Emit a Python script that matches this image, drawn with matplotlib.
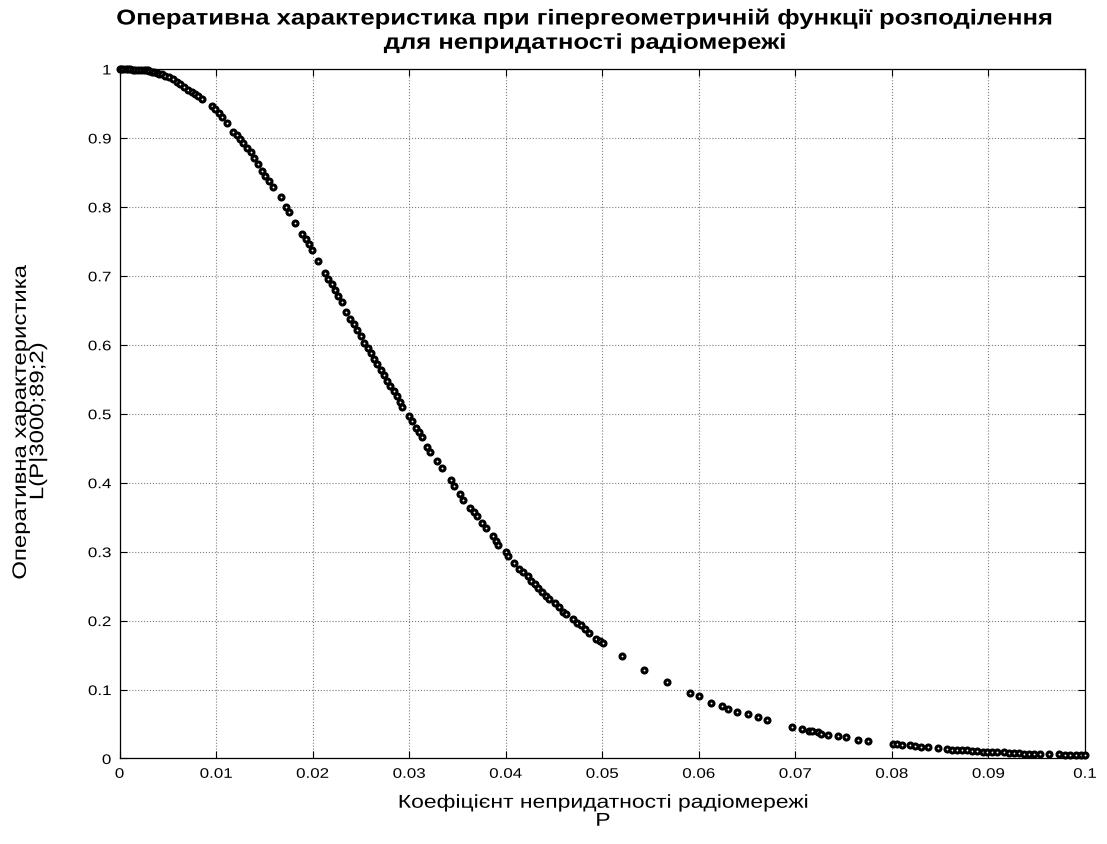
import matplotlib
matplotlib.use("Agg")
import matplotlib.pyplot as plt
from matplotlib import patheffects
from matplotlib.transforms import Affine2D
import numpy as np

plt.rcParams["font.family"] = ["Liberation Sans", "DejaVu Sans"]

# коефіцієнт непридатності P та оперативна характеристика L(P|3000;89;2)
p_vals = [
    0.0000, 0.0002, 0.0004, 0.0007, 0.0009, 0.0011, 0.0014, 0.0016, 0.0019, 0.0022,
    0.0025, 0.0027, 0.0029, 0.0031, 0.0034, 0.0036, 0.0039, 0.0041, 0.0044, 0.0047,
    0.0051, 0.0055, 0.0059, 0.0063, 0.0067, 0.0071, 0.0075, 0.0078, 0.0081, 0.0085,
    0.0096, 0.0099, 0.0103, 0.0106, 0.0111, 0.0118, 0.0122, 0.0125, 0.0128, 0.0132,
    0.0136, 0.0139, 0.0143, 0.0148, 0.0151, 0.0155, 0.0159, 0.0167, 0.0172, 0.0176,
    0.0182, 0.0189, 0.0193, 0.0196, 0.0199, 0.0206, 0.0213, 0.0216, 0.0220, 0.0223,
    0.0226, 0.0230, 0.0235, 0.0239, 0.0243, 0.0246, 0.0250, 0.0253, 0.0257, 0.0260,
    0.0264, 0.0267, 0.0271, 0.0274, 0.0277, 0.0280, 0.0284, 0.0287, 0.0291, 0.0293,
    0.0300, 0.0303, 0.0307, 0.0310, 0.0313, 0.0319, 0.0322, 0.0329, 0.0334, 0.0343,
    0.0346, 0.0353, 0.0356, 0.0363, 0.0367, 0.0370, 0.0375, 0.0380, 0.0387, 0.0390,
    0.0392, 0.0400, 0.0402, 0.0409, 0.0414, 0.0418, 0.0423, 0.0426, 0.0430, 0.0433,
    0.0438, 0.0442, 0.0445, 0.0451, 0.0455, 0.0459, 0.0463, 0.0470, 0.0474, 0.0478,
    0.0482, 0.0486, 0.0494, 0.0498, 0.0501, 0.0520, 0.0543, 0.0567, 0.0591, 0.0600,
    0.0613, 0.0624, 0.0630, 0.0640, 0.0651, 0.0661, 0.0671, 0.0697, 0.0707, 0.0714,
    0.0717, 0.0724, 0.0727, 0.0734, 0.0744, 0.0753, 0.0765, 0.0775, 0.0801, 0.0805,
    0.0811, 0.0819, 0.0824, 0.0830, 0.0838, 0.0848, 0.0857, 0.0862, 0.0868, 0.0873,
    0.0878, 0.0883, 0.0888, 0.0894, 0.0899, 0.0904, 0.0909, 0.0916, 0.0921, 0.0927,
    0.0932, 0.0937, 0.0942, 0.0947, 0.0954, 0.0963, 0.0973, 0.0979, 0.0985, 0.0991,
    0.0996, 0.1000,
]
l_vals = [
    1.000, 1.000, 1.000, 1.000, 1.000, 1.000, 0.999, 0.999, 0.999, 0.999,
    0.998, 0.998, 0.998, 0.997, 0.996, 0.995, 0.994, 0.993, 0.992, 0.990,
    0.988, 0.985, 0.981, 0.978, 0.974, 0.970, 0.967, 0.964, 0.961, 0.957,
    0.947, 0.942, 0.936, 0.931, 0.921, 0.909, 0.904, 0.898, 0.893, 0.886,
    0.879, 0.871, 0.862, 0.852, 0.845, 0.837, 0.829, 0.814, 0.800, 0.792,
    0.776, 0.760, 0.753, 0.746, 0.737, 0.721, 0.704, 0.695, 0.688, 0.679,
    0.671, 0.662, 0.647, 0.638, 0.630, 0.621, 0.612, 0.603, 0.595, 0.588,
    0.580, 0.572, 0.564, 0.556, 0.548, 0.540, 0.533, 0.526, 0.517, 0.510,
    0.496, 0.490, 0.480, 0.474, 0.466, 0.452, 0.444, 0.432, 0.422, 0.404,
    0.395, 0.383, 0.375, 0.364, 0.357, 0.352, 0.341, 0.334, 0.323, 0.316,
    0.310, 0.300, 0.293, 0.284, 0.275, 0.270, 0.265, 0.258, 0.253, 0.247,
    0.242, 0.236, 0.231, 0.225, 0.219, 0.213, 0.209, 0.202, 0.197, 0.193,
    0.188, 0.182, 0.174, 0.171, 0.167, 0.148, 0.129, 0.111, 0.095, 0.090,
    0.081, 0.076, 0.072, 0.068, 0.064, 0.060, 0.056, 0.046, 0.043, 0.040,
    0.040, 0.038, 0.036, 0.034, 0.032, 0.031, 0.027, 0.026, 0.021, 0.021,
    0.020, 0.019, 0.018, 0.017, 0.016, 0.015, 0.014, 0.013, 0.013, 0.012,
    0.012, 0.011, 0.011, 0.010, 0.010, 0.010, 0.009, 0.009, 0.008, 0.008,
    0.008, 0.007, 0.007, 0.007, 0.006, 0.006, 0.006, 0.005, 0.005, 0.005,
    0.005, 0.005,
]

x_ticks = np.arange(0, 0.1001, 0.01)
y_ticks = np.arange(0, 1.001, 0.1)
x_labels = ["0", "0.01", "0.02", "0.03", "0.04", "0.05", "0.06", "0.07", "0.08", "0.09", "0.1"]
y_labels = ["0", "0.1", "0.2", "0.3", "0.4", "0.5", "0.6", "0.7", "0.8", "0.9", "1"]


class Widen(patheffects.AbstractPathEffect):
    """Розтягує гліфи вздовж рядка (ширший шрифт, як у MATLAB-експорті)."""

    def __init__(self, sx, anchor=0.5):
        super().__init__()
        self.sx = sx
        self.anchor = anchor

    def draw_path(self, renderer, gc, tpath, affine, rgbFace=None):
        ext = tpath.get_extents()
        x0 = ext.x0 + self.anchor * ext.width
        pre = Affine2D().translate(-x0, 0).scale(self.sx, 1).translate(x0, 0)
        renderer.draw_path(gc, tpath, pre + affine, rgbFace)


fig = plt.figure(figsize=(11.07, 8.45), dpi=100)
fig.patch.set_facecolor("white")
ax = fig.add_axes([0.108, 0.1012, 0.872, 0.8160])

ax.plot(p_vals, l_vals, linestyle="none", marker="o", markersize=3.6,
        markerfacecolor="white", markeredgecolor="black", markeredgewidth=2.2,
        clip_on=False, zorder=3)

ax.set_xlim(0, 0.1)
ax.set_ylim(0, 1)
ax.set_xticks(x_ticks)
ax.set_xticklabels(x_labels)
ax.set_yticks(y_ticks)
ax.set_yticklabels(y_labels)
ax.tick_params(direction="in", length=5, width=0.8, top=True, right=True,
               labelsize=10, colors="black", pad=6)
ax.grid(True, linestyle=":", color="#7f7f7f", linewidth=0.8)
for s in ax.spines.values():
    s.set_linewidth(0.9)
for t in ax.get_xticklabels():
    t.set_path_effects([Widen(1.22, 0.5)])
for t in ax.get_yticklabels():
    t.set_path_effects([Widen(1.22, 1.0)])

# заголовок, підписи осей
title = fig.text(585 / 1107, 1 - 9 / 845,
                 "Оперативна характеристика при гіпергеометричній функції розподілення\n"
                 "для непридатності радіомережі",
                 ha="center", va="top", fontsize=15.5, fontweight="bold", linespacing=1.2)
title.set_path_effects([Widen(1.19)])
xl = fig.text(603 / 1107, 1 - 813 / 845, "Коефіцієнт непридатності радіомережі\nP",
              ha="center", va="center", fontsize=13.4, linespacing=1.08)
xl.set_path_effects([Widen(1.23)])
yl = fig.text(30 / 1107, 1 - 422 / 845, "Оперативна характеристика\nL(P|3000;89;2)",
              ha="center", va="center", rotation=90, fontsize=14, linespacing=1.02)
yl.set_path_effects([Widen(1.23)])

fig.savefig("out.png", dpi=100)
